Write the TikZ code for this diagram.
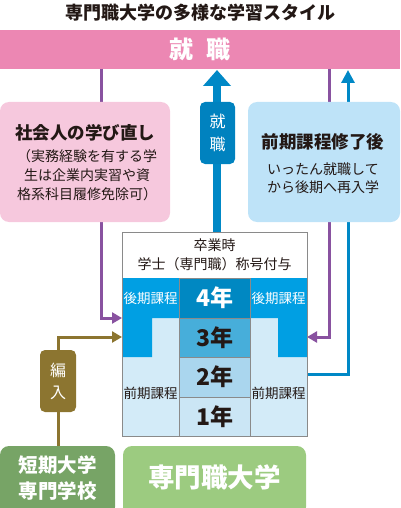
\documentclass[tikz,border=0pt]{standalone}
\usepackage{fontspec}
\setmainfont{Noto Sans CJK JP}
\usetikzlibrary{arrows.meta}
\definecolor{txt}{HTML}{231815}
\definecolor{pinkband}{HTML}{EC87B3}
\definecolor{pinkbox}{HTML}{F6C8DD}
\definecolor{lbluebox}{HTML}{BEE3F8}
\definecolor{bluearrow}{HTML}{0088C6}
\definecolor{bluelabel}{HTML}{0082BF}
\definecolor{purp}{HTML}{8952A0}
\definecolor{olive}{HTML}{8C7530}
\definecolor{dgreen}{HTML}{77A466}
\definecolor{lgreen}{HTML}{9CCB80}
\definecolor{tblue}{HTML}{009FE3}
\definecolor{yfour}{HTML}{0088C2}
\definecolor{ythree}{HTML}{47AEDA}
\definecolor{ytwo}{HTML}{AAD6EE}
\definecolor{yone}{HTML}{CBE6F5}
\definecolor{lcol}{HTML}{D3EBF8}
\definecolor{border}{HTML}{8A8A8A}
\newcommand{\fs}[1]{\fontsize{#1}{#1}\selectfont}
\begin{document}
\begin{tikzpicture}[x=1pt,y=-1pt,
  plain/.style={inner sep=0pt, outer sep=0pt},
  rbox/.style={plain, rounded corners=9pt, anchor=north west},
  purpline/.style={draw=purp, line width=3pt, -{Triangle[width=11pt,length=10pt]}},
  oliveline/.style={draw=olive, line width=3pt, -{Triangle[width=11pt,length=10pt]}},
  bluethin/.style={draw=bluearrow, line width=3pt, {Triangle[width=13pt,length=13pt]}-},
  bigarrow/.style={draw=bluearrow, line width=8pt, -{Triangle[width=27pt,length=16pt]}},
  cell/.style={plain, draw=border, line width=0.8pt, minimum width=71pt, anchor=north west},
  yr/.style={font=\bfseries\fs{23}},
  side/.style={font=\fs{13.5}},
]
\useasboundingbox (0,0) rectangle (400,508);
% title and band
\node[plain, text=txt, font=\bfseries\fs{18}] (title) at (200,13) {専門職大学の多様な学習スタイル};
\node[plain, fill=pinkband, minimum width=400pt, minimum height=39pt, anchor=north west] (job) at (0,30) {};
\node[plain, text=white, font=\bfseries\fs{24}] (jobtxt) at (200,49) {就\hspace{14pt}職};
% table frame node
\node[plain, minimum width=185pt, minimum height=204pt, anchor=north west] (tab) at (122,232) {};
% bottom boxes
\node[rbox, fill=dgreen, minimum width=115pt, minimum height=70pt] (jc) at (0,446) {};
\node[rbox, fill=lgreen, minimum width=183pt, minimum height=70pt] (pu) at (123,446) {};
% connectors
\coordinate (pl) at (101,318);
\coordinate (ol) at (58,337);
\coordinate (pr) at (329,337);
\coordinate (br) at (348,374);
\coordinate (ba) at (217,232);
\draw[purpline] (job.south -| pl) -- (pl) -- (pl -| tab.west);
\draw[oliveline] (jc.north -| ol) -- (ol) -- (ol -| tab.west);
\draw[purpline] (job.south -| pr) -- (pr) -- (pr -| tab.east);
\draw[bluethin] ([yshift=-1pt]job.south -| br) -- (br) -- (br -| tab.east);
\draw[bigarrow] (ba) -- ([yshift=-1pt]job.south -| ba);
% boxes over lines
\node[rbox, fill=pinkbox, minimum width=170pt, minimum height=120pt] (adult) at (0,102) {};
\node[plain, text=txt, font=\bfseries\fs{17.5}] (adultT) at (85,133) {社会人の学び直し};
\node[plain, text=txt, font=\fs{14}, align=center] (adultS) at (87,175) {（実務経験を有する学\\[5pt]生は企業内実習や資\\[5pt]格系科目履修免除可）};
\node[rbox, fill=lbluebox, minimum width=152pt, minimum height=120pt] (re) at (248,102) {};
\node[plain, text=txt, font=\bfseries\fs{17.5}] (reT) at (323,142) {前期課程修了後};
\node[plain, text=txt, font=\fs{14}, align=center] (reS) at (323,178) {いったん就職して\\[4.5pt]から後期へ再入学};
\node[plain, fill=bluelabel, rounded corners=5pt, minimum width=35pt, minimum height=62pt, anchor=north west] (jl) at (200,102) {};
\node[plain, text=white, font=\fs{16}, align=center] (jlT) at (jl.center) {就\\[7pt]職};
\node[plain, fill=olive, rounded corners=5pt, minimum width=36pt, minimum height=62pt, anchor=north west] (hn) at (40,350) {};
\node[plain, text=white, font=\fs{16}, align=center] (hnT) at (hn.center) {編\\[6pt]入};
\node[plain, text=white, font=\bfseries\fs{19.5}, align=center] (jcT) at (57.5,478) {短期大学\\[7pt]専門学校};
\node[plain, text=white, font=\bfseries\fs{26.5}] (puT) at (214.5,477) {専門職大学};
% table contents
\fill[white] (122,232) rectangle (307,278);
\node[plain, text=txt, font=\fs{14}, align=center] (hd) at (214.5,255) {卒業時\\[5pt]学士（専門職）称号付与};
\fill[lcol] (122,278) rectangle (179,436);
\fill[lcol] (250,278) rectangle (307,436);
\fill[tblue] (122,278) -- (179,278) -- (179,318) -- (152,318) -- (152,357) -- (122,357) -- cycle;
\fill[tblue] (250,278) -- (307,278) -- (307,357) -- (278,357) -- (278,318) -- (250,318) -- cycle;
\node[cell, fill=yfour, minimum height=40pt] (y4) at (179,278) {};
\node[cell, fill=ythree, minimum height=39pt] (y3) at (179,318) {};
\node[cell, fill=ytwo, minimum height=40pt] (y2) at (179,357) {};
\node[cell, fill=yone, minimum height=39pt] (y1) at (179,397) {};
\node[plain, yr, text=white] at (y4.center) {4年};
\node[plain, yr, text=txt] at (y3.center) {3年};
\node[plain, yr, text=txt] at (y2.center) {2年};
\node[plain, yr, text=txt] at (y1.center) {1年};
\node[plain, side, text=white] (lk) at (150.5,298) {後期課程};
\node[plain, side, text=white] (rk) at (278.5,298) {後期課程};
\node[plain, side, text=txt] (lz) at (150.5,393) {前期課程};
\node[plain, side, text=txt] (rz) at (278.5,393) {前期課程};
\draw[border, line width=0.8pt] (122,232) rectangle (307,436);
\end{tikzpicture}
\end{document}
